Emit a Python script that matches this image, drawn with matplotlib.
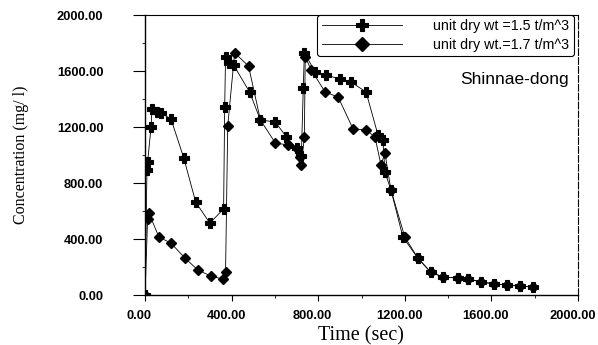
import matplotlib
matplotlib.use("Agg")
import matplotlib.pyplot as plt
import matplotlib.transforms as mtransforms
from matplotlib.ticker import FormatStrFormatter, MultipleLocator

# unit dry wt = 1.5 t/m^3 (plus markers)
time_15 = [0, 9, 12, 28, 32, 55, 74, 120, 179, 234, 299, 363,
           368, 372, 390, 409, 483, 533, 602, 653, 700, 722,
           731, 736, 786, 837, 901, 952, 1021, 1076, 1099, 1108,
           1136, 1191, 1260, 1319, 1375, 1444, 1494, 1554, 1614,
           1674, 1733, 1793]
conc_15 = [0, 893, 950, 1200, 1329, 1307, 1300, 1257, 979, 664, 514, 614,
           1343, 1700, 1657, 1643, 1450, 1250, 1236, 1129, 1050, 990,
           1479, 1729, 1593, 1571, 1543, 1521, 1450, 1143, 1107, 879,
           750, 414, 264, 164, 129, 121, 114, 93, 79,
           71, 64, 57]

# unit dry wt = 1.7 t/m^3 (diamond markers)
time_17 = [0, 12, 18, 64, 120, 184, 244, 303, 359, 372,
           382, 414, 478, 533, 602, 662, 717, 722,
           736, 740, 768, 832, 892, 961, 1021, 1062, 1090, 1108,
           1136, 1200, 1260, 1319, 1375, 1444, 1494, 1554, 1614,
           1674, 1733, 1793]
conc_17 = [0, 543, 586, 414, 371, 264, 179, 136, 114, 164,
           1207, 1729, 1636, 1250, 1086, 1071, 986, 929,
           1129, 1700, 1607, 1450, 1414, 1186, 1179, 1129, 929, 1014,
           750, 414, 264, 164, 129, 121, 114, 93, 79,
           71, 64, 57]

labels = ["unit dry wt =1.5 t/m^3", "unit dry wt.=1.7 t/m^3"]

fig = plt.figure(figsize=(5.98, 3.45), dpi=100)
ax = fig.add_axes([0.2425, 0.1449, 0.7241, 0.8116])

ax.plot(time_15, conc_15, color="black", linewidth=0.6,
        marker="P", markersize=6.5, markeredgewidth=0.8,
        label=labels[0])
ax.plot(time_17, conc_17, color="black", linewidth=0.6,
        marker="D", markersize=5.2, label=labels[1])

ax.set_xlim(0, 2000)
ax.set_ylim(0, 2000)
ax.xaxis.set_major_locator(MultipleLocator(400))
ax.xaxis.set_minor_locator(MultipleLocator(200))
ax.yaxis.set_major_locator(MultipleLocator(400))
ax.yaxis.set_minor_locator(MultipleLocator(200))
ax.xaxis.set_major_formatter(FormatStrFormatter("%.2f"))
ax.yaxis.set_major_formatter(FormatStrFormatter("%.2f"))

ax.tick_params(axis="x", which="major", direction="out", length=4,
               width=0.8, labelsize=9.3, pad=7)
ax.tick_params(axis="y", which="major", direction="out", length=9,
               width=0.8, labelsize=9.3, pad=21)
ax.tick_params(which="minor", direction="out", length=2.5, width=0.6)

# nudge x tick labels a little to the left, as in the scan
shift = mtransforms.ScaledTranslation(-4 / 72, 0, fig.dpi_scale_trans)
for lab in ax.get_xticklabels():
    lab.set_transform(lab.get_transform() + shift)
for lab in ax.get_xticklabels() + ax.get_yticklabels():
    lab.set_family("Liberation Sans")
    lab.set_fontweight("bold")

for side in ["left", "bottom"]:
    ax.spines[side].set_linewidth(1.0)
for side in ["top", "right"]:
    ax.spines[side].set_linewidth(0.8)
ax.spines["right"].set_linestyle((0, (6, 2)))

ax.set_xlabel("Time (sec)", family="Liberation Serif", fontsize=14.5)
ax.xaxis.set_label_coords(0.499, -0.112)
ax.set_ylabel("Concentration (mg/ l)", family="Liberation Serif",
              fontsize=11.5)
ax.yaxis.set_label_coords(-0.267, 0.5)

ax.text(1455, 1540, "Shinnae-dong", family="Liberation Sans",
        fontsize=12.5, ha="left", va="center")

leg = ax.legend(loc="upper right", bbox_to_anchor=(0.99, 1.0),
                borderaxespad=0, frameon=True, fancybox=True,
                edgecolor="black", framealpha=1, handlelength=5.6,
                handletextpad=2.2, borderpad=0.3, labelspacing=0.3,
                markerscale=1.35,
                prop={"family": "Liberation Sans", "size": 10.3})
leg.get_frame().set_linewidth(0.8)

fig.savefig("out.png", dpi=100)
